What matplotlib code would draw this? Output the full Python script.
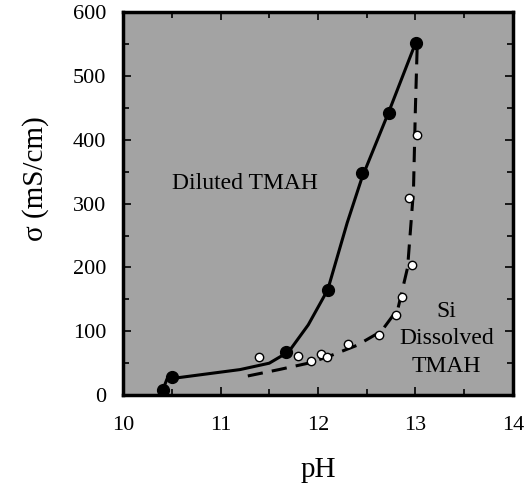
import matplotlib.pyplot as plt
from matplotlib.ticker import MultipleLocator

plt.rcParams["font.family"] = ["Liberation Serif", "DejaVu Serif"]

# Diluted TMAH (filled points)
ph_dil = [10.41, 10.5, 11.67, 12.1, 12.45, 12.73, 13.01]
sig_dil = [8, 28, 67, 165, 348, 442, 552]
# hand-drawn solid curve
ph_dil_curve = [10.4, 10.45, 10.8, 11.2, 11.5, 11.7, 11.9, 12.1, 12.3, 12.45, 12.73, 13.01]
sig_dil_curve = [5, 25, 32, 40, 50, 68, 110, 165, 270, 340, 445, 555]

# Si dissolved TMAH (open points)
ph_si = [11.39, 11.8, 11.93, 12.03, 12.09, 12.31, 12.63, 12.8, 12.86, 12.97, 12.93, 13.02]
sig_si = [60, 62, 54, 64, 60, 80, 94, 125, 154, 204, 309, 407]
# dashed curve
ph_si_curve = [11.28, 11.6, 11.9, 12.1, 12.4, 12.65, 12.82, 12.92, 12.98, 13.0, 13.02]
sig_si_curve = [30, 40, 50, 60, 78, 100, 135, 200, 320, 450, 555]

fig = plt.figure(figsize=(5.26, 4.86), dpi=100)
ax = fig.add_axes([0.234, 0.187, 0.741, 0.788])
ax.set_facecolor("#a3a3a3")

ax.plot(ph_dil_curve, sig_dil_curve, color="black", lw=2.2)
ax.plot(ph_dil, sig_dil, "o", color="black", ms=8.5)
ax.plot(ph_si_curve, sig_si_curve, color="black", lw=2.2, ls=(0, (5, 3)))
ax.plot(ph_si, sig_si, "o", mfc="white", mec="black", mew=1.0, ms=6)

ax.text(10.5, 332, "Diluted TMAH", fontsize=17, va="center", ha="left")
ax.text(13.32, 88, "Si\nDissolved\nTMAH", fontsize=17, va="center", ha="center",
        linespacing=1.4)

ax.set_xlim(10, 14)
ax.set_ylim(0, 600)
ax.xaxis.set_major_locator(MultipleLocator(1))
ax.xaxis.set_minor_locator(MultipleLocator(0.5))
ax.yaxis.set_major_locator(MultipleLocator(100))
ax.yaxis.set_minor_locator(MultipleLocator(50))
ax.tick_params(which="both", direction="in", top=True, right=True, width=1.2)
ax.tick_params(which="major", length=6, labelsize=16)
ax.tick_params(which="minor", length=4)
ax.tick_params(axis="x", pad=15)
ax.tick_params(axis="y", pad=12)
for s in ax.spines.values():
    s.set_linewidth(2.5)

ax.set_xlabel("pH", fontsize=21, labelpad=16)
ax.set_ylabel("σ (mS/cm)", fontsize=21)
ax.yaxis.set_label_coords(-0.19, 0.565)

fig.savefig("out.png", dpi=100)
